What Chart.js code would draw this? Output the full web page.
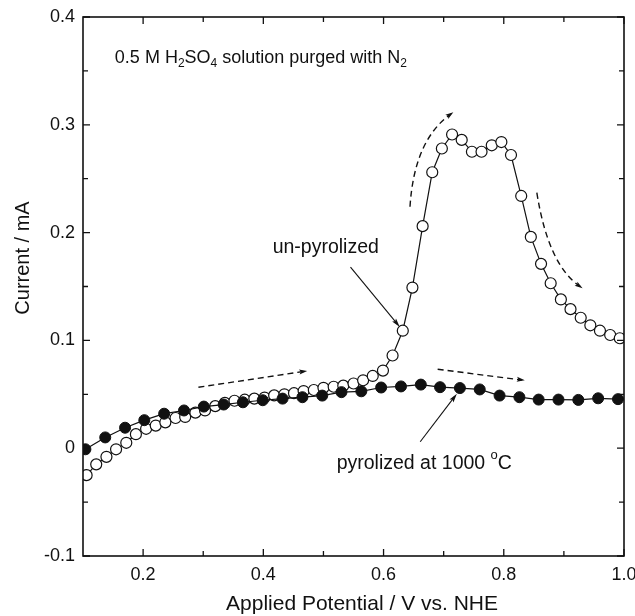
<!DOCTYPE html>
<html>
<head>
<meta charset="utf-8">
<script src="https://cdn.jsdelivr.net/npm/chart.js@4/dist/chart.umd.min.js"></script>
<style>
html,body{margin:0;padding:0;background:#fff;}
#wrap{width:635px;height:616px;position:relative;}
canvas{display:block;}
</style>
</head>
<body>
<div id="wrap"><canvas id="c" width="635" height="616"></canvas></div>
<script>
// ---- data ----
const unpyroPotential = [0.106,0.122,0.139,0.155,0.172,0.188,0.205,0.221,0.237,0.254,0.270,0.287,0.303,0.320,0.336,0.352,0.369,0.385,0.402,0.418,0.435,0.451,0.467,0.484,0.500,0.517,0.533,0.550,0.566,0.582,0.599,0.615,0.632,0.648,0.665,0.681,0.697,0.714,0.730,0.747,0.763,0.780,0.796,0.812,0.829,0.845,0.862,0.878,0.895,0.911,0.928,0.944,0.960,0.977,0.993];
const unpyroCurrent = [-0.025,-0.015,-0.008,-0.001,0.005,0.013,0.018,0.021,0.024,0.028,0.029,0.033,0.035,0.039,0.042,0.044,0.045,0.046,0.047,0.049,0.050,0.051,0.053,0.054,0.056,0.057,0.058,0.060,0.063,0.067,0.072,0.086,0.109,0.149,0.206,0.256,0.278,0.291,0.286,0.275,0.275,0.281,0.284,0.272,0.234,0.196,0.171,0.153,0.138,0.129,0.121,0.114,0.109,0.105,0.102];
const pyroPotential = [0.104,0.137,0.170,0.202,0.235,0.268,0.301,0.334,0.366,0.399,0.432,0.465,0.498,0.530,0.563,0.596,0.629,0.662,0.694,0.727,0.760,0.793,0.826,0.858,0.891,0.924,0.957,0.990];
const pyroCurrent = [-0.001,0.010,0.019,0.026,0.032,0.035,0.0386,0.0405,0.0426,0.0445,0.046,0.0473,0.0488,0.052,0.0528,0.0563,0.0573,0.059,0.0566,0.0558,0.0545,0.0488,0.0473,0.0451,0.0451,0.0448,0.0463,0.0455];

const potentialTicks = [0.2, 0.4, 0.6, 0.8, 1.0];
const potentialMinorTicks = [0.3, 0.5, 0.7, 0.9];
const currentTicks = [-0.1, 0, 0.1, 0.2, 0.3, 0.4];
const currentMinorTicks = [-0.05, 0.05, 0.15, 0.25, 0.35];

// annotation anchors, in data units (potential, current)
const dashedArrows = [
  {from:[0.644,0.224], ctrl:[0.651,0.286], to:[0.712,0.310]},
  {from:[0.855,0.237], ctrl:[0.874,0.170], to:[0.927,0.150]},
  {from:[0.292,0.0565], to:[0.468,0.0713]},
  {from:[0.690,0.0732], to:[0.830,0.0633]}
];
const solidArrows = [
  {from:[0.545,0.168], to:[0.627,0.1125]},
  {from:[0.661,0.006], to:[0.722,0.0505]}
];
const conditionLabelAt = [0.153, 0.362];
const unpyroLabelAt = [0.4155, 0.186];
const pyroLabelAt = [0.522, -0.0145];

const FONT = '"Liberation Sans", Arial, Helvetica, sans-serif';
const INK = '#111';

function pts(xs, ys){ return xs.map((x,i)=>({x:x, y:ys[i]})); }

function arrowHead(ctx, x, y, ang, len, wid){
  ctx.save();
  ctx.translate(x,y); ctx.rotate(ang);
  ctx.beginPath();
  ctx.moveTo(0,0); ctx.lineTo(-len, wid/2); ctx.lineTo(-len*0.8,0); ctx.lineTo(-len,-wid/2); ctx.closePath();
  ctx.fill();
  ctx.restore();
}

function richText(ctx, x, y, parts, size){
  let cx = x;
  parts.forEach(p=>{
    const s = p.sub || p.sup ? Math.round(size*0.65) : size;
    ctx.font = s + 'px ' + FONT;
    const dy = p.sub ? size*0.32 : (p.sup ? -size*0.42 : 0);
    ctx.fillText(p.t, cx, y+dy);
    cx += ctx.measureText(p.t).width;
  });
}

const decorPlugin = {
  id:'decor',
  afterDatasetsDraw(chart){
    const ctx = chart.ctx, xs = chart.scales.x, ys = chart.scales.y, a = chart.chartArea;
    const P = v => [xs.getPixelForValue(v[0]), ys.getPixelForValue(v[1])];
    ctx.save();
    ctx.strokeStyle = INK; ctx.fillStyle = INK;
    // frame
    ctx.lineWidth = 1.6;
    ctx.strokeRect(a.left, a.top, a.right-a.left, a.bottom-a.top);
    // inward ticks
    ctx.lineWidth = 1.3;
    const tx = (vals, len) => vals.forEach(v=>{
      const px = xs.getPixelForValue(v);
      ctx.beginPath(); ctx.moveTo(px, a.bottom); ctx.lineTo(px, a.bottom-len);
      ctx.moveTo(px, a.top); ctx.lineTo(px, a.top+len); ctx.stroke();
    });
    const ty = (vals, len) => vals.forEach(v=>{
      const py = ys.getPixelForValue(v);
      ctx.beginPath(); ctx.moveTo(a.left, py); ctx.lineTo(a.left+len, py);
      ctx.moveTo(a.right, py); ctx.lineTo(a.right-len, py); ctx.stroke();
    });
    tx(potentialTicks, 7); tx(potentialMinorTicks, 5);
    ty(currentTicks, 7); ty(currentMinorTicks, 5);

    // dashed arrows
    ctx.lineWidth = 1.4;
    dashedArrows.forEach(d=>{
      const f = P(d.from), t = P(d.to);
      ctx.setLineDash([6,4]);
      ctx.beginPath(); ctx.moveTo(f[0],f[1]);
      let ang;
      if (d.ctrl){ const c = P(d.ctrl); ctx.quadraticCurveTo(c[0],c[1],t[0],t[1]); ang = Math.atan2(t[1]-c[1], t[0]-c[0]); }
      else { ctx.lineTo(t[0],t[1]); ang = Math.atan2(t[1]-f[1], t[0]-f[0]); }
      ctx.stroke();
      ctx.setLineDash([]);
      arrowHead(ctx, t[0]+Math.cos(ang)*3, t[1]+Math.sin(ang)*3, ang, 8, 5);
    });
    // solid arrows
    ctx.lineWidth = 1.1;
    solidArrows.forEach(d=>{
      const f = P(d.from), t = P(d.to);
      const ang = Math.atan2(t[1]-f[1], t[0]-f[0]);
      ctx.beginPath(); ctx.moveTo(f[0],f[1]); ctx.lineTo(t[0]-Math.cos(ang)*4, t[1]-Math.sin(ang)*4); ctx.stroke();
      arrowHead(ctx, t[0], t[1], ang, 9, 5);
    });

    // texts
    ctx.textBaseline = 'middle'; ctx.textAlign = 'left';
    let p = P(conditionLabelAt);
    richText(ctx, p[0], p[1], [{t:'0.5 M H'},{t:'2',sub:true},{t:'SO'},{t:'4',sub:true},{t:' solution purged with N'},{t:'2',sub:true}], 18);
    p = P(unpyroLabelAt);
    richText(ctx, p[0], p[1], [{t:'un-pyrolized'}], 19.5);
    p = P(pyroLabelAt);
    richText(ctx, p[0], p[1], [{t:'pyrolized at 1000 '},{t:'o',sup:true},{t:'C'}], 19.5);

    // axis titles
    ctx.font = '21px ' + FONT;
    ctx.textAlign = 'center';
    ctx.fillText('Applied Potential / V vs. NHE', 362, 604);
    ctx.font = '20px ' + FONT;
    ctx.save();
    ctx.translate(23, 258); ctx.rotate(-Math.PI/2);
    ctx.fillText('Current / mA', 0, 0);
    ctx.restore();
    ctx.restore();
  }
};

new Chart(document.getElementById('c').getContext('2d'), {
  type:'scatter',
  data:{ datasets:[
    {label:'pyrolized at 1000 °C', data:pts(pyroPotential, pyroCurrent), showLine:true,
     borderColor:INK, borderWidth:1.2, pointRadius:5.5, pointBackgroundColor:INK, pointBorderColor:INK, pointBorderWidth:1},
    {label:'un-pyrolized', data:pts(unpyroPotential, unpyroCurrent), showLine:true,
     borderColor:INK, borderWidth:1.2, pointRadius:5.5, pointBackgroundColor:'#fff', pointBorderColor:INK, pointBorderWidth:1.2}
  ]},
  options:{
    responsive:false, animation:false, devicePixelRatio:1,
    layout:{padding:{left:0, right:11, top:17, bottom:0}},
    plugins:{legend:{display:false}, tooltip:{enabled:false}},
    scales:{
      x:{type:'linear', min:0.1, max:1.0,
         grid:{display:false, drawTicks:false}, border:{display:false},
         afterBuildTicks:s=>{ s.ticks = potentialTicks.map(v=>({value:v})); },
         afterFit:s=>{ s.height = 60; s.paddingLeft = 0; s.paddingRight = 0; },
         ticks:{padding:8, color:INK, font:{family:FONT, size:18}, maxRotation:0, autoSkip:false,
                callback:v=>Number(v).toFixed(1)}},
      y:{type:'linear', min:-0.1, max:0.4,
         grid:{display:false, drawTicks:false}, border:{display:false},
         afterBuildTicks:s=>{ s.ticks = currentTicks.map(v=>({value:v})); },
         afterFit:s=>{ s.width = 83; s.paddingTop = 0; s.paddingBottom = 0; },
         ticks:{padding:8, color:INK, font:{family:FONT, size:18}, autoSkip:false,
                callback:v=>Math.abs(v)<1e-9 ? '0' : Number(v).toFixed(1)}}
    }
  },
  plugins:[decorPlugin]
});
</script>
</body>
</html>
